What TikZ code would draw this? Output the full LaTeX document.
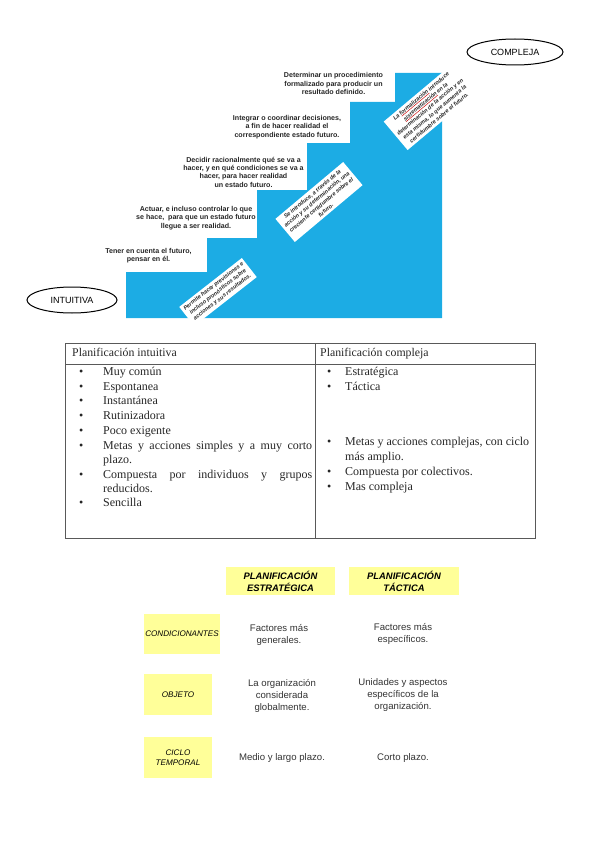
\documentclass[tikz,border=0pt]{standalone}
\usepackage{fontspec}
\setmainfont{Liberation Serif}
\setsansfont{Liberation Sans}
\usetikzlibrary{shapes.geometric}
\definecolor{stairblue}{RGB}{28,172,228}
\definecolor{pyellow}{RGB}{255,255,153}
\newsavebox\redubox
\newcommand\redu[1]{\sbox\redubox{#1}\rlap{\textcolor{red!80!black}{\rule[-1.1pt]{\wd\redubox}{0.45pt}}}\usebox{\redubox}}
\begin{document}
\begin{tikzpicture}[x=1pt,y=-1pt,
  stairtxt/.style={font=\sffamily\bfseries\fontsize{7.1}{8.3}\selectfont, align=center, inner sep=0pt, text=black!85},
  rotbox/.style={fill=white, font=\sffamily\bfseries\itshape\fontsize{5.6}{7}\selectfont, align=center, inner sep=2.5pt, text=black!85},
  oval/.style={ellipse, draw=black, line width=1pt, font=\sffamily\fontsize{9}{10}\selectfont, inner sep=0pt},
  tline/.style={draw=black!65, line width=0.8pt},
  ttxt/.style={anchor=west, inner sep=0pt, font=\fontsize{12}{14}\selectfont, text=black!85, text height=8pt, text depth=2.7pt},
  htxt/.style={anchor=west, inner sep=0pt, font=\fontsize{11.8}{13}\selectfont, text=black!85, text height=8pt, text depth=2.7pt},
  ybox/.style={fill=pyellow, inner sep=0pt, align=center, text=black},
  cell/.style={font=\sffamily\fontsize{9.6}{12}\selectfont, align=center, text=black!80, inner sep=0pt}
]
\useasboundingbox (0,0) rectangle (599,848);

% staircase
\fill[stairblue] (126,318) -- (126,272) -- (207,272) -- (207,238) -- (257,238) -- (257,190)
  -- (307,190) -- (307,143) -- (350,143) -- (350,102) -- (395,102) -- (395,73)
  -- (442,73) -- (442,318) -- cycle;

\node[stairtxt] (s1) at (148.5,256) {Tener en cuenta el futuro,\\pensar en él.};
\node[stairtxt] (s2) at (196,218) {Actuar, e incluso controlar lo que\\se hace,\ \ para que un estado futuro\\llegue a ser realidad.};
\node[stairtxt] (s3) at (243.5,172) {Decidir racionalmente qué se va a\\hacer, y en qué condiciones se va a\\hacer, para hacer realidad\\un estado futuro.};
\node[stairtxt] (s4) at (287,127) {Integrar o coordinar decisiones,\\a fin de hacer realidad el\\correspondiente estado futuro.};
\node[stairtxt] (s5) at (333.5,83.5) {Determinar un procedimiento\\formalizado para producir un\\resultado definido.};

\node[rotbox, rotate=38] (r1) at (218,292) {Permite hacer previsiones e\\incluso pronósticos sobre\\acciones y sus resultados.};
\node[rotbox, rotate=40] (r2) at (319,202) {Se introduce, a través de la\\acción y su determinación, una\\creciente certidumbre sobre el\\futuro.};
\node[rotbox, rotate=40] (r3) at (430,107) {La \redu{formalización} introduce\\\redu{sistematización} en la\\determinación de la acción y en\\esta misma, lo que aumenta la\\certidumbre sobre el futuro.};

\node[oval, minimum width=90pt, minimum height=26pt] (intu) at (72,300) {INTUITIVA};
\node[oval, minimum width=96pt, minimum height=26pt] (comp) at (515,52) {COMPLEJA};

% table
\draw[tline] (65,343) rectangle (535,538);
\draw[tline] (65,364) -- (535,364);
\draw[tline] (315,343) -- (315,538);

\node[htxt] (h1) at (72,354) {Planificación intuitiva};
\node[htxt] (h2) at (320,354) {Planificación compleja};

\foreach \yy/\tx/\nm in {373/Muy común/a1, 388/Espontanea/a2, 402/Instantánea/a3, 417/Rutinizadora/a4, 432/Poco exigente/a5, 504/Sencilla/a10}{
  \node[ttxt] (b\nm) at (79,\yy) {\textbullet};
  \node[ttxt] (\nm) at (103,\yy) {\tx};
}
\node[ttxt] (ba6) at (79,447) {\textbullet};
\node[ttxt] (a6) at (103,447) {\makebox[209pt][s]{Metas y acciones simples y a muy corto}};
\node[ttxt] (a7) at (103,461) {plazo.};
\node[ttxt] (ba8) at (79,476) {\textbullet};
\node[ttxt] (a8) at (103,476) {\makebox[209pt][s]{Compuesta por individuos y grupos}};
\node[ttxt] (a9) at (103,490) {reducidos.};

\foreach \yy/\tx/\nm in {373/Estratégica/c1, 388/Táctica/c2, 443/{Metas y acciones complejas, con ciclo}/c3, 473/Compuesta por colectivos./c5, 488/Mas compleja/c6}{
  \node[ttxt] (b\nm) at (327,\yy) {\textbullet};
  \node[ttxt] (\nm) at (345,\yy) {\tx};
}
\node[ttxt] (c4) at (345,458) {más amplio.};

% bottom comparison
\node[ybox, minimum width=109pt, minimum height=28pt, font=\sffamily\bfseries\itshape\fontsize{9.4}{12}\selectfont] (he) at (280.5,581) {PLANIFICACIÓN\\ESTRATÉGICA};
\node[ybox, minimum width=110pt, minimum height=28pt, font=\sffamily\bfseries\itshape\fontsize{9.4}{12}\selectfont] (ht) at (404,581) {PLANIFICACIÓN\\TÁCTICA};
\node[ybox, minimum width=76pt, minimum height=40pt, font=\sffamily\itshape\fontsize{8.1}{10.5}\selectfont] (lc) at (182,634) {CONDICIONANTES};
\node[ybox, minimum width=68pt, minimum height=41pt, font=\sffamily\itshape\fontsize{8.1}{10.5}\selectfont] (lo) at (178,694.5) {OBJETO};
\node[ybox, minimum width=68pt, minimum height=41pt, font=\sffamily\itshape\fontsize{8.1}{10.5}\selectfont] (lt) at (178,757.5) {CICLO\\TEMPORAL};

\node[cell] (e1) at (279,635) {Factores más\\generales.};
\node[cell] (t1) at (403,634) {Factores más\\específicos.};
\node[cell] (e2) at (282,695.5) {La organización\\considerada\\globalmente.};
\node[cell] (t2) at (403,695.5) {Unidades y aspectos\\específicos de la\\organización.};
\node[cell] (e3) at (282,758) {Medio y largo plazo.};
\node[cell] (t3) at (403,758) {Corto plazo.};
\end{tikzpicture}
\end{document}
